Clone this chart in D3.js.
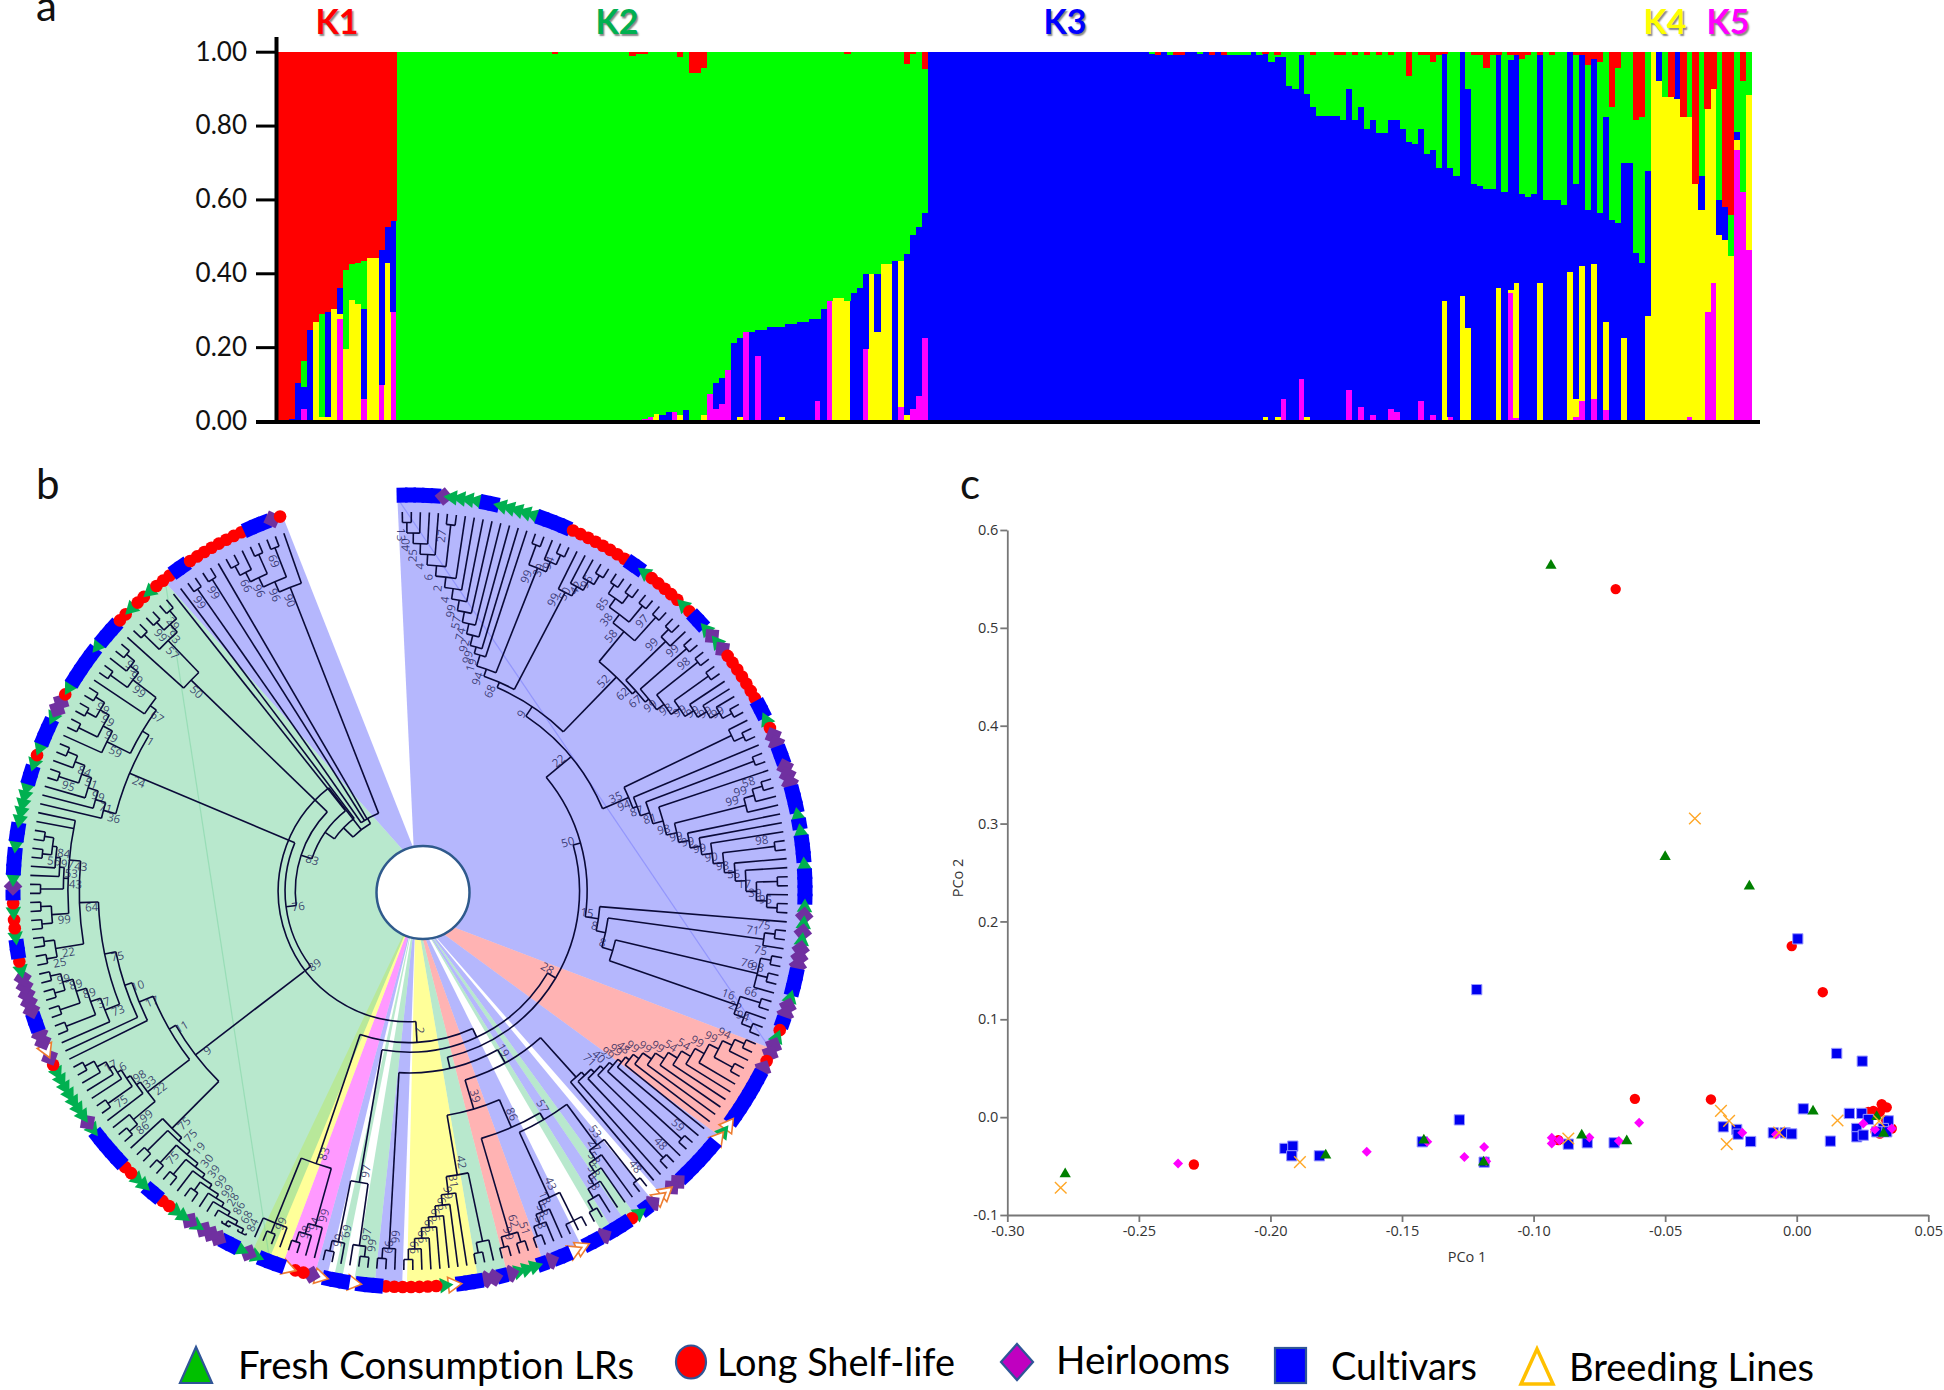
<!DOCTYPE html>
<html>
<head>
<meta charset="utf-8">
<title>Population structure</title>
<script src="https://cdn.jsdelivr.net/npm/d3@7"></script>
<style>
  html, body { margin: 0; padding: 0; background: #fff; }
  svg { display: block; }
  .klabel { font: bold 34px Lato, sans-serif; text-anchor: middle; text-shadow: 1.5px 1.5px 1.5px #888; }
  .panel { font: 42px Lato, sans-serif; fill: #111; }
  .pc text { font: 14.5px "Open Sans", sans-serif; fill: #333; }
  .boot { font: 11.5px "Open Sans", sans-serif; fill: #1a1a55; fill-opacity: .8; text-anchor: middle; dominant-baseline: middle; }
  .legend { font: 38px Lato, sans-serif; fill: #000; font-variant-ligatures: none; }
</style>
</head>
<body>
<svg id="fig" width="1944" height="1390"></svg>
<script>
// panel a: top edge of each colour in every bar, bottom to top (red fills up to 1)
const k5Top = [
  0,0,0,0,.033,0,0,.002,0,0,
  .275,0,0,0,.06,0,0,.097,0,.295,
  0,0,0,0,0,0,0,0,0,0,
  0,0,0,0,0,0,0,0,0,0,
  0,0,0,0,0,0,0,0,0,0,
  0,0,0,0,0,0,0,.003,.003,0,
  0,.005,.012,0,0,.004,.024,0,0,0,
  0,.002,.074,.033,.047,.139,0,0,.241,0,
  .175,0,0,0,0,0,0,0,0,0,
  .053,0,.325,0,0,0,0,0,.196,0,
  0,0,0,.002,.038,0,.033,.069,.225,
  0,0,0,0,0,0,0,0,0,0,
  0,0,0,0,0,0,0,0,0,0,
  0,0,0,0,0,0,0,0,0,0,
  0,0,0,0,0,0,0,
  0,0,0,0,0,0,0,0,0,0,
  0,0,0,0,0,0,0,.003,0,0,
  0,0,.06,0,0,.113,0,0,0,0,
  0,.003,0,.083,.002,.038,0,.017,0,0,
  .033,.024,0,0,0,.054,0,.017,0,0,
  .011,0,0,0,0,0,0,0,0,0,
  .347,.009,0,0,0,0,0,0,0,0,
  0,.011,.053,0,.06,0,.031,0,0,0,
  0,0,0,0,0,0,0,0,0,0,
  .011,0,0,.295,.375,0,0,0,.733,.619,.463
];
const k4Top = [
  0,0,0,0,.033,0,.268,.011,.011,.304,
  .291,.196,.327,.318,.06,.442,.442,.097,.428,.295,
  0,0,0,0,0,0,0,0,0,0,
  0,0,0,0,0,0,0,0,0,0,
  0,0,0,0,0,0,0,0,0,0,
  0,0,0,0,0,0,0,.003,.003,0,
  0,.005,.012,.018,0,.004,.024,.017,0,0,
  0,.017,.074,.033,.047,.139,0,.011,.241,0,
  .175,0,0,0,.011,0,0,0,0,0,
  .053,0,.325,.334,.334,.325,0,0,.196,.397,
  .241,.426,.426,.002,.434,.017,.033,.069,.225,
  0,0,0,0,0,0,0,0,0,0,
  0,0,0,0,0,0,0,0,0,0,
  0,0,0,0,0,0,0,0,0,0,
  0,0,0,0,0,0,0,
  0,0,0,0,0,0,0,0,0,0,
  0,0,0,0,0,0,0,.003,0,.011,
  0,.011,.06,0,0,.113,.011,0,0,0,
  0,.003,0,.083,.002,.038,0,.017,0,0,
  .033,.024,0,0,0,.054,0,.017,0,.325,
  .011,0,.339,.253,0,0,0,0,.361,0,
  .354,.375,0,0,0,.375,0,0,0,0,
  .404,.06,.419,0,.426,0,.268,0,0,.225,
  0,0,0,.284,1,.921,.876,.876,.871,.822,
  .822,.641,.571,.845,.899,.505,.491,.446,.762,.619,.884
];
const k3Top = [
  0,.003,.005,.104,.092,.246,.268,.011,.295,.304,
  .361,.196,.327,.318,.304,.442,.442,.464,.526,.542,
  0,0,0,0,0,0,0,0,0,0,
  0,0,0,0,0,0,0,0,0,0,
  0,0,0,0,0,0,0,0,0,0,
  0,0,0,0,0,0,0,.003,.003,0,
  .003,.005,.012,.018,.017,.024,.024,.017,.03,0,
  0,.017,.074,.104,.117,.139,.211,.225,.241,.241,
  .246,.246,.255,.255,.255,.264,.264,.268,.268,.277,
  .277,.304,.325,.334,.334,.325,.347,.361,.397,.397,
  .397,.426,.426,.434,.434,.453,.505,.526,.562,
  1,1,1,1,1,1,1,1,1,1,
  1,1,1,1,1,1,1,1,1,1,
  1,1,1,1,1,1,1,1,1,1,
  1,1,1,1,1,1,1,
  .993,.993,1,.992,.992,.992,1,1,.994,1,
  .994,1,.994,.992,.992,.992,.992,1,.992,.993,
  .973,.986,.986,.907,.899,.99,.885,.849,.827,.827,
  .827,.827,.815,.899,.815,.849,.792,.815,.779,.779,
  .815,.815,.792,.756,.75,.792,.722,.733,.686,.993,
  .686,.664,1,.899,.643,.636,.628,.628,.99,.62,
  .978,.99,.616,.607,.616,.99,.598,.598,.598,.585,
  1,.643,.99,.571,.98,.564,.822,.544,.537,.699,
  .699,.455,.428,.677,1,1,.876,.876,1,.822,
  .822,.641,.663,.845,.899,.598,.58,.446,.783,.619,.884
];
const k2Top = [
  0,.003,.005,.104,.162,.246,.268,.291,.295,.304,
  .361,.41,.426,.428,.434,.442,.442,.464,.526,.542,
  1,1,1,1,1,1,1,1,1,1,
  1,1,1,1,1,1,1,1,1,1,
  1,1,1,1,1,1,.995,1,1,1,
  1,1,1,1,1,1,1,1,1,.988,
  .993,.993,1,1,1,1,1,.986,1,.943,
  .943,.957,1,1,1,1,1,1,1,1,
  1,1,1,1,1,1,1,1,1,1,
  1,1,1,1,1,.993,1,1,1,1,
  1,1,1,1,1,.966,.993,1,.952,
  1,1,1,1,1,1,1,1,1,1,
  1,1,1,1,1,1,1,1,1,1,
  1,1,1,1,1,1,1,1,1,1,
  1,1,1,1,1,1,1,
  1,.992,1,1,.992,.992,1,1,1,1,
  .992,1,.992,1,1,1,1,1,1,.993,
  1,.992,1,1,1,1,1,.992,1,1,
  1,.992,.992,1,.992,1,.992,1,.992,1,
  .992,1,1,.935,1,.992,.992,.973,.992,.993,
  1,1,1,1,.992,.992,.957,.992,.99,1,
  .992,.99,.979,.992,1,.992,1,.992,1,1,
  1,.992,.99,.964,.98,.973,1,.849,.957,1,
  1,.815,.822,1,1,1,1,.876,1,.822,
  1,.641,1,.845,.899,1,.58,.557,1,.92,1
];
const yTicksA = [0, .2, .4, .6, .8, 1];
const clusterNames = ['K1', 'K2', 'K3', 'K4', 'K5'];

// panel b: bootstrap tree, clockwise from the top; x is a tip
const x = {};
const node = (label, ...kids) => ({ label, kids });
const trunk = (depth, label, ...kids) => ({ depth, label, kids });
const at = (depth, n) => ({ ...n, depth });
const ladder = (first, steps) => steps.reduce((acc, [l, s]) => node(l, acc, s), first);
const ladderR = (steps, last) => steps.reduceRight((acc, [l, s]) => node(l, s, acc), last);
const pair = (l = '') => node(l, x, x);

const t1 = ladder(pair('13'), [['40',x],['25',x],['4',x],['6',pair('27')],['2',x],['4',x],['99',x],['57',x],['74',x],['92',x],['99',x],['19',x]]);
const g3 = node('99', pair(), node('39', x, pair('94')));
const g4 = ladderR([['99',x],['50',x],['42',x]], pair('96'));
const upper52 = ladder(pair(), [['85',pair()],['38',pair()],['58',pair('97')]]);
const lower52 = ladderR([['62',ladder(pair(),[['99',x]])],['67',pair('99')],['99',pair('98')],['98',pair()],['99',x],['99',x],['99',x]], pair('99'));
const c52 = trunk(.786, '52', upper52, lower52);
const n94 = trunk(.62, '94', at(.65, t1), g3);
const n68 = trunk(.60, '68', n94, g4);
const n9 = trunk(.585, '9', n68, c52);
const c35 = ladderR([['35',node('',x,pair())],['94',x],['87',pair()],['81',x],['98',ladder(pair('58'),[['99',x],['99',x]])],['99',x],['99',x],['99',x],['90',pair('98')],['98',x],['55',x],['17',pair()],['39',x]], pair('95'));
const n22 = trunk(.555, '22', n9, at(.63, c35));
const clade71 = node('71', pair('75'), x);
const clade76 = node('76', pair('75'), pair('98'), x);
const clade16 = node('16', pair('66'), node('22', x, pair('94')));
const n8b = trunk(.56, '8', clade76, clade16);
const n8a = trunk(.53, '8', clade71, n8b);
const n15 = trunk(.505, '15', x, n8a);
const n50 = trunk(.47, '50', n22, n15);

const salmonBlue = ladder(node('94', pair(), x), [['99',pair()],['99',x],['54',x],['54',x],['99',x],['99',x],['99',x],['48',x],['99',x],['99',pair('59')],['40',x],['71',pair('48')],['',x],['',x]]);
const n53 = node('53', pair('48'), ladderR([['27',x],['58',x],['58',x],['58',x]], pair()));
const n43 = node('43', node('',x,x,x), node('18', x, node('58', x, pair('58'))));
const n57 = trunk(.70, '57', n53, n43);
const salmon4 = node('62', pair('51'), pair('99'));
const n86 = trunk(.68, '86', n57, salmon4);
const green3 = node('', x, pair());
const yellowY = ladderR([['31',x],['99',x],['66',x],['66',x],['66',x],['66',x]], pair('99'));
const n42 = trunk(.76, '42', green3, yellowY);
const n39 = trunk(.6, '39', n86, n42);
const n19 = trunk(.52, '19', at(.66, salmonBlue), n39);
const blue3 = node('99', x, pair('66'));
const nodeD = trunk(.48, '', n19, blue3);
const nodeC = trunk(.45, '28', n50, nodeD);
const green97 = node('97', node('97', pair('99'), x), node('69', x, pair('99')));
const pink4 = node('99', x, node('94', x, pair('98')));
const yellow4 = node('', x, pair('99'), x);
const py83 = trunk(.76, '83', pink4, yellow4);
const nodeB = trunk(.425, '', nodeC, at(.78, green97));
const nodeA = trunk(.40, '2', nodeB, py83);

const clade19 = ladder(node('68', pair('84'), pair()), [['86',x],['28',x],['99',x],['99',pair()],['39',x],['30',pair()],['19',pair('75')],['75',pair()],['75',x]]);
const group22 = ladderR([['22',node('99',pair('86'),x)],['33',x],['98',pair('75')],['',x],['6',x],['17',x]], pair());
const group89 = ladderR([['73',x],['37',pair()],['89',pair()],['89',pair()]], pair('99'));
const group25 = node('22', pair('25'), pair());
const group99 = node('99', pair(), pair());
const group53 = ladderR([['43',pair()],['53',x],['97',x],['84',pair('56')]], pair());
const n43b = trunk(.90, '43', group99, group53, x, x);
const n64 = trunk(.87, '64', group25, n43b);
const n75 = trunk(.82, '75', group89, n64);
const n10 = trunk(.79, '10', x, n75);
const n17 = trunk(.77, '17', x, n10);
const n11 = trunk(.73, '11', at(.87, group22), n17);
const greenLow = trunk(.71, '9', at(.885, clade19), n11);
const groupU1 = ladderR([['36',x],['71',x],['99',x],['51',pair('95')],['84',x]], pair());
const groupU2 = ladderR([['59',x],['99',pair()],['99',pair()]], pair('99'));
const groupU3 = ladderR([['67',x],['99',pair()],['99',x]], pair('99'));
const groupU4 = ladderR([['50',x],['57',pair()],['93',pair('99')]], pair('29'));
const n1 = trunk(.82, '1', groupU2, at(.84, groupU3));
const n24 = trunk(.80, '24', groupU1, n1);
const n76 = trunk(.327, '76', trunk(.348, '89', greenLow), n24);
const c1 = trunk(.30, '83', n76, at(.8, groupU4));
const c2 = trunk(.27, '', c1, x);
const c3 = trunk(.24, '', c2, x);
const smallBlue = trunk(.22, '', node('99', x, x), pair('99'), x,
  trunk(.86, '90', node('96', ladder(pair(), [['66',x],['96',pair()]]), pair('69')), x));
const c4 = trunk(.205, '', c3, smallBlue);
const treeData = trunk(.345, '', nodeA, c4);

// ring of accession symbols, clockwise: type letter + how many in a row
const ringRuns = ['C5','H1','G4','C2','G5','C4','R8','C2','G1','R5','G1','R1','C2','G1','H1','G1','H1','R7','C2','G1','R1','H2','C2','H3','C3','G1','C1','G1','C3','G1','C4','G1','H1','G1','H1','G1','H3','C3','G1','H2','C1','R1','G1','H1','H1','R1','H1','C7','B1','G1','B1','C6','H2','B2','H1','C1','G1','R1','C3','H1','C2','B2','C2','H1','C1','G3','H1','C1','H2','C3','B1','G1','R7','C3','B1','C3','B1','H1','R2','B1','C3','G1','H1','G1','C2','H3','G1','H1','G2','R2','C2','G2','R2','C5','G1','H1','G7','R1','H1','B1','H2','C2','H5','G1','R1','C2','G1','R2','G1','R1','C1','H1','G1','C3','G1','C2','G5','C2','G1','R1','G1','C3','G1','H2','R1','G1','C5','G1','C3','R2','G1','R2','G1','R3','C2','R8','C3','H1','R1'];

// coloured fans behind the tree, degrees clockwise from the top
const fanFrom = [-38.3, -1.7, 113.5, 128.3, 141.8, 145.1, 146.8, 149, 154.1, 160.1, 165.6, 169.9, 181, 185, 189.8, 192, 193.8, 198.7, 200.8];
const fanTo   = [-18.6, 113.5, 128.3, 140.3, 145.1, 146.8, 149, 150.5, 160.1, 165.6, 169.9, 180.3, 185, 188, 191, 193.8, 198.7, 203.5, 321.7];
const fanCluster = ['K3','K3','K1','K3','K3','K2','K3','K2','K3','K1','K2','K4','K3','K2','K2','K3','K5','K4','K2'];

// panel c: PCo 1 / PCo 2
const freshX = [-.0934, -.05, -.018, -.278, -.179, -.1417, -.119, -.0817, -.0646, .0062, .033, .0304];
const freshY = [.5637, .266, .236, -.058, -.039, -.0235, -.046, -.0184, -.0245, .0061, -.0166, .0003];
const longX = [-.0688, -.0019, .0099, -.0615, -.0326, -.0906, -.2291, .0323, .0291, .0272, .0316, .0342, .0316, .0361, .03, .034];
const longY = [.5396, .1748, .1277, .0187, .0181, -.0235, -.0484, .0133, .0064, .0054, .0054, .0100, -.0167, -.0116, -.0150, -.0030];
const heirX = [-.2351, -.1634, -.1404, -.1188, -.1263, -.118, -.0931, -.0931, -.0902, -.0788, -.0676, -.0599, -.0207, -.0079, .0253, .0297, .0361];
const heirY = [-.0473, -.0354, -.0252, -.0306, -.0408, -.045, -.0211, -.0269, -.0235, -.0208, -.0245, -.0058, -.016, -.0177, -.0065, -.0126, -.0116];
const cultX = [.0004, -.1216, .0152, .0249, -.1282, -.1945, -.1915, -.1919, -.1814, -.1423, -.1188, -.0868, -.0796, -.0694, -.0279, -.0228, -.0223, -.0175, -.0089, -.0044, -.0019, .0025, .0128, .02, .0247, .0272, .0228, .0228, .0253, .0348, .0329, .0342, .0304];
const cultY = [.1822, .1303, .0651, .0572, -.0028, -.032, -.0296, -.0395, -.0395, -.0252, -.046, -.0276, -.0262, -.0262, -.0099, -.0126, -.0174, -.0249, -.016, -.016, -.0171, .0085, -.0245, .0038, .0038, -.0024, -.0116, -.0201, -.0184, -.0038, -.0116, -.015, -.015];
const breedX = [-.0387, -.2797, -.1888, -.0868, -.0288, -.0257, -.0266, -.0067, .0155, .0313];
const breedY = [.3052, -.0722, -.046, -.0218, .0064, -.0038, -.0276, -.0157, -.0034, -.0041];
const xTicksC = [-.3, -.25, -.2, -.15, -.1, -.05, 0, .05];
const yTicksC = [-.1, 0, .1, .2, .3, .4, .5, .6];

const legendNames = ['Fresh Consumption LRs', 'Long Shelf-life', 'Heirlooms', 'Cultivars', 'Breeding Lines'];

const clusterColor = d3.scaleOrdinal(clusterNames, ['#ff0000', '#00ff00', '#0000ff', '#ffff00', '#ff00ff']);
const svg = d3.select('#fig');

// ---------- panel a ----------
const gA = svg.append('g');
const yA = d3.scaleLinear([0, 1], [421, 51.7]);
const barIndex = d3.range(k3Top.length);
const xA = d3.scaleBand(barIndex, [277, 1752]);
const layers = [
  ['K5', () => 0, i => k5Top[i]],
  ['K4', i => k5Top[i], i => k4Top[i]],
  ['K3', i => k4Top[i], i => k3Top[i]],
  ['K2', i => k3Top[i], i => k2Top[i]],
  ['K1', i => k2Top[i], () => 1]
];
layers.forEach(([name, lo, hi]) => {
  gA.append('g').attr('fill', clusterColor(name)).attr('shape-rendering', 'crispEdges')
    .selectAll('rect').data(barIndex.filter(i => hi(i) > lo(i))).join('rect')
    .attr('x', i => xA(i))
    .attr('width', xA.bandwidth() + .4)
    .attr('y', i => yA(hi(i)))
    .attr('height', i => yA(lo(i)) - yA(hi(i)));
});
const axisA = gA.append('g').attr('transform', 'translate(276,0)')
  .call(d3.axisLeft(yA).tickValues(yTicksA).tickSize(20).tickPadding(9).tickFormat(d => d.toFixed(2)));
axisA.select('.domain').remove();
axisA.selectAll('line').attr('stroke', '#000').attr('stroke-width', 3);
axisA.selectAll('text').attr('font-family', 'Lato, sans-serif').attr('font-size', 26).attr('fill', '#111');
gA.append('line').attr('x1', 276.5).attr('x2', 276.5).attr('y1', 37).attr('y2', 424).attr('stroke', '#000').attr('stroke-width', 4);
gA.append('line').attr('x1', 256).attr('x2', 1760).attr('y1', 422).attr('y2', 422).attr('stroke', '#000').attr('stroke-width', 4);

const kLabelX = d3.scaleOrdinal(clusterNames, [337, 617, 1065, 1665, 1728]);
const kLabelFill = d3.scaleOrdinal(clusterNames, ['#ff0000', '#00b050', '#0000ff', '#ffff00', '#ff00ff']);
gA.selectAll('.klabel').data(clusterNames).join('text').attr('class', 'klabel')
  .attr('x', d => kLabelX(d)).attr('y', 34).attr('fill', d => kLabelFill(d)).text(d => d);

svg.append('text').attr('class', 'panel').attr('x', 36).attr('y', 21).text('a');
svg.append('text').attr('class', 'panel').attr('x', 36).attr('y', 499).text('b');
svg.append('text').attr('class', 'panel').attr('x', 960).attr('y', 499).text('c');

// ---------- panel b ----------
const cx = 409, cy = 891, hole = [423, 892.5, 46.5];
const polar = (a, r, c = [cx, cy]) => [c[0] + r * Math.sin(a * Math.PI / 180), c[1] - r * Math.cos(a * Math.PI / 180)];
const gB = svg.append('g');

const fanFill = d3.scaleOrdinal(['K1', 'K2', 'K3', 'K4', 'K5'], ['#ff6767', '#71d19b', '#6b6ffb', '#ffff33', '#ff33ff']);
const innerAngle = d3.scaleLinear([-156.5, -38.3, -18.6, -1.7, 113.5, 128.3, 140.3, 203.5], [-155, -24.4, -12, -12, 140, 155, 165, 205]);
const toInner = a => a > 203.5 ? innerAngle(a - 360) + 360 : innerAngle(a);
const fanLine = d3.line();
fanFrom.forEach((a0, i) => {
  const a1 = fanTo[i];
  const outer = d3.range(a0, a1, .5).concat(a1).map(a => polar(a, 393));
  const pts = [polar(toInner(a0), hole[2] - 2, hole), ...outer, polar(toInner(a1), hole[2] - 2, hole)];
  gB.append('path').attr('d', fanLine(pts) + 'Z').attr('fill', fanFill(fanCluster[i])).attr('fill-opacity', .5);
  // the two big fans show their chord
  if (a1 - a0 > 100) {
    gB.append('line')
      .attr('x1', polar(a0, 393)[0]).attr('y1', polar(a0, 393)[1])
      .attr('x2', polar(a1, 393)[0]).attr('y2', polar(a1, 393)[1])
      .attr('stroke', fanFill(fanCluster[i])).attr('stroke-opacity', .45).attr('stroke-width', 1.2);
  }
});

const rTree = d3.scaleLinear([0, 1], [0, 379]);
const root = d3.hierarchy(treeData, d => d.kids);
d3.cluster().size([343.1, 1]).separation(() => 1)(root);
root.eachBefore(d => {
  d.ang = -1.7 + d.x;
  const parentDepth = d.parent ? d.parent.dep : 0;
  d.dep = d.data.depth ?? Math.max(parentDepth + .012, 1 - d.height * .0277);
  if (!d.children) d.dep = 1;
});
const gTree = gB.append('g').attr('transform', `translate(${cx},${cy})`).attr('fill', 'none').attr('stroke', '#0a0a38').attr('stroke-width', 1.6);
const arcGen = d3.arc();
root.descendants().forEach(d => {
  if (d.parent) {
    const [x0, y0] = polar(d.ang, rTree(d.parent.dep), [0, 0]);
    const [x1, y1] = polar(d.ang, rTree(d.dep), [0, 0]);
    gTree.append('line').attr('x1', x0).attr('y1', y0).attr('x2', x1).attr('y2', y1);
  }
  if (d.children && d.children.length > 1) {
    const first = d.children[0].ang, last = d.children[d.children.length - 1].ang;
    const r = rTree(d.dep);
    gTree.append('path').attr('d', arcGen({ innerRadius: r, outerRadius: r, startAngle: first * Math.PI / 180, endAngle: last * Math.PI / 180 }));
  }
});
// bootstrap values, turned along the radius
root.descendants().filter(d => d.data.label).forEach(d => {
  const [lx, ly] = polar(d.ang - 1.1, rTree(d.dep) - 12);
  const a = ((d.ang % 360) + 360) % 360;
  const turn = a < 180 ? a - 90 : a + 90;
  gB.append('text').attr('class', 'boot').attr('transform', `translate(${lx},${ly}) rotate(${turn})`).text(d.data.label);
});

// ring of symbols
const ringTypes = ringRuns.flatMap(s => Array(+s.slice(1)).fill(s[0]));
const ringAngle = d3.scalePoint(d3.range(ringTypes.length), [-1, 341]);
const gRing = gB.append('g');
const triangle = d3.symbol(d3.symbolTriangle, 105)();
const roundDot = d3.symbol(d3.symbolCircle, 125)();
const diamond = d3.symbol(d3.symbolSquare, 175)();
ringTypes.forEach((t, i) => {
  const a = ringAngle(i);
  const [px, py] = polar(a, 396);
  const pos = `translate(${px},${py})`;
  if (t === 'C') gRing.append('rect').attr('x', -5.5).attr('y', -7.5).attr('width', 11).attr('height', 15).attr('fill', '#0000ff').attr('transform', `${pos} rotate(${a})`);
  if (t === 'R') gRing.append('path').attr('d', roundDot).attr('fill', '#ff0000').attr('transform', pos);
  if (t === 'G') gRing.append('path').attr('d', triangle).attr('fill', '#00b050').attr('transform', `${pos} rotate(${a - 90})`);
  if (t === 'H') gRing.append('path').attr('d', diamond).attr('fill', '#7030a0').attr('transform', `${pos} rotate(${a + 45})`);
  if (t === 'B') gRing.append('path').attr('d', triangle).attr('fill', '#fff').attr('stroke', '#ed7d31').attr('stroke-width', 1.6).attr('transform', `${pos} rotate(${a - 90})`);
});

gB.append('circle').attr('cx', hole[0]).attr('cy', hole[1]).attr('r', hole[2]).attr('fill', '#fff').attr('stroke', '#2f5a8c').attr('stroke-width', 2.5);

// ---------- panel c ----------
const xC = d3.scaleLinear([-.3, .05], [1007.3, 1928.3]);
const yC = d3.scaleLinear([-.1, .6], [1215, 530]);
const gC = svg.append('g').attr('class', 'pc');
const axX = gC.append('g').attr('transform', 'translate(0,1215)')
  .call(d3.axisBottom(xC).tickValues(xTicksC).tickSize(7).tickPadding(4).tickSizeOuter(0).tickFormat(d => d.toFixed(2)));
const axY = gC.append('g').attr('transform', 'translate(1007.3,0)')
  .call(d3.axisLeft(yC).tickValues(yTicksC).tickSize(7).tickPadding(2).tickSizeOuter(0).tickFormat(d => d.toFixed(1)));
[axX, axY].forEach(ax => {
  ax.selectAll('.domain, line').attr('stroke', '#777').attr('stroke-width', 1.8);
});
gC.append('text').attr('x', 1467).attr('y', 1262).attr('text-anchor', 'middle').attr('font-size', 13.5).text('PCo 1');
gC.append('text').attr('transform', 'translate(963,878) rotate(-90)').attr('text-anchor', 'middle').attr('font-size', 13.5).text('PCo 2');

const scatter = (xs, ys, shape, attrs, rot = 0) => {
  const marks = gC.append('g').selectAll('path').data(xs).join('path')
    .attr('d', shape)
    .attr('transform', (d, i) => `translate(${xC(d)},${yC(ys[i])}) rotate(${rot})`);
  Object.entries(attrs).forEach(([k, v]) => marks.attr(k, v));
};
scatter(longX, longY, d3.symbol(d3.symbolCircle, 85)(), { fill: '#ff0000' });
scatter(cultX, cultY, d3.symbol(d3.symbolSquare, 105)(), { fill: '#0000f0', stroke: '#9a9aff', 'stroke-width': 1 });
scatter(heirX, heirY, d3.symbol(d3.symbolSquare, 50)(), { fill: '#ff00ff' }, 45);
scatter(freshX, freshY, d3.symbol(d3.symbolTriangle, 55)(), { fill: '#008000' });
scatter(breedX, breedY, d3.symbol(d3.symbolX, 90)(), { fill: 'none', stroke: '#ffa726', 'stroke-width': 1.4 });

// ---------- legend ----------
const gL = svg.append('g');
const legendLeft = [238, 717, 1056, 1331, 1569];
const legendWide = [396, 238, 174, 146, 245];
const legendBase = [1379, 1376, 1374, 1380, 1381];
gL.selectAll('text').data(legendNames).join('text').attr('class', 'legend')
  .attr('x', (d, i) => legendLeft[i]).attr('y', (d, i) => legendBase[i])
  .attr('textLength', (d, i) => legendWide[i]).attr('lengthAdjust', 'spacingAndGlyphs')
  .text(d => d);
const keyStroke = '#2f5597';
gL.append('path').attr('d', 'M196,1347 L212,1383 L180,1383 Z').attr('fill', '#00c000').attr('stroke', keyStroke).attr('stroke-width', 2.2);
gL.append('ellipse').attr('cx', 691).attr('cy', 1362).attr('rx', 15).attr('ry', 16.5).attr('fill', '#ff0000').attr('stroke', keyStroke).attr('stroke-width', 2.2);
gL.append('path').attr('d', 'M1017,1344 L1033,1362 L1017,1380 L1001,1362 Z').attr('fill', '#c000c0').attr('stroke', keyStroke).attr('stroke-width', 2.2);
gL.append('rect').attr('x', 1275).attr('y', 1348).attr('width', 31).attr('height', 35).attr('fill', '#0000ff').attr('stroke', keyStroke).attr('stroke-width', 2.2);
gL.append('path').attr('d', 'M1537,1349 L1553,1384 L1521,1384 Z').attr('fill', 'none').attr('stroke', '#ffc000').attr('stroke-width', 3.5);
</script>
</body>
</html>
